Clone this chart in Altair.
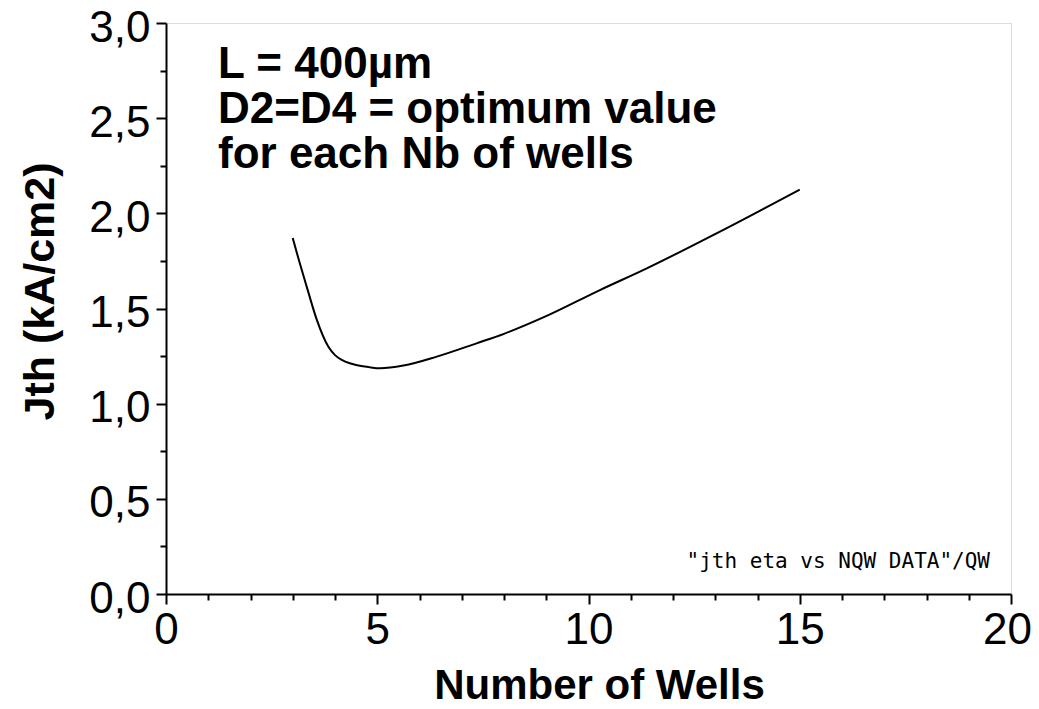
import altair as alt
import pandas as pd

# Data
wells = [3.0, 3.1, 3.33, 3.57, 3.84, 4.0, 4.16, 4.35, 4.5, 4.8, 5.07, 5.62, 6.41, 7.35, 8.0, 8.97, 10.27, 11.38, 13.03, 15.0]
jth = [1.87, 1.79, 1.615, 1.44, 1.30, 1.255, 1.23, 1.212, 1.203, 1.192, 1.186, 1.20, 1.247, 1.317, 1.367, 1.457, 1.597, 1.711, 1.895, 2.125]

x_major = [0, 5, 10, 15, 20]
x_minor = [1, 2, 3, 4, 6, 7, 8, 9, 11, 12, 13, 14, 16, 17, 18, 19]
y_major = [0.0, 0.5, 1.0, 1.5, 2.0, 2.5, 3.0]
y_minor = [0.25, 0.75, 1.25, 1.75, 2.25, 2.75]

note_lines = ["L = 400µm", "D2=D4 = optimum value", "for each Nb of wells"]
source_label = '"jth eta vs NQW DATA"/QW'

df = pd.DataFrame({"wells": wells, "jth": jth})

xs = alt.Scale(domain=[0, 20], nice=False, zero=False)
ys = alt.Scale(domain=[0, 3], nice=False, zero=False)

FONT = "Liberation Sans"

major_x_axis = alt.Axis(
    values=x_major, orient="bottom", grid=False, tickSize=10, tickWidth=2, tickColor="black",
    domainColor="black", domainWidth=2, labelFont=FONT, labelFontSize=44, labelColor="black",
    labelPadding=4, labelFlush=False, labelOverlap=False,
    labelOffset={"condition": {"test": "datum.value == 20", "value": -4}, "value": 0},
    title="Number of Wells", titleFont=FONT, titleFontSize=42, titleFontWeight="bold",
    titleColor="black", titleX=433, titleY=104, titleAlign="center", titleBaseline="alphabetic",
)
major_y_axis = alt.Axis(
    values=y_major, orient="left", grid=False, tickSize=10, tickWidth=2, tickColor="black",
    domainColor="black", domainWidth=2, labelFont=FONT, labelFontSize=44, labelColor="black",
    labelPadding=6, labelOffset=5, labelFlush=False, labelOverlap=False, labelBaseline="middle",
    labelExpr="replace(format(datum.value, '.1f'), '.', ',')",
    title="Jth (kA/cm2)", titleFont=FONT, titleFontSize=43, titleFontWeight="bold",
    titleColor="black", titleX=-113, titleY=268, titleAngle=270, titleAlign="center",
    titleBaseline="alphabetic",
)
minor_x_axis = alt.Axis(
    values=x_minor, orient="bottom", grid=False, tickSize=6, tickWidth=2, tickColor="black",
    domain=False, labels=False, title=None,
)
minor_y_axis = alt.Axis(
    values=y_minor, orient="left", grid=False, tickSize=6, tickWidth=2, tickColor="black",
    domain=False, labels=False, title=None,
)

line = alt.Chart(df).mark_line(color="black", strokeWidth=2, interpolate="monotone").encode(
    x=alt.X("wells:Q", scale=xs, axis=major_x_axis),
    y=alt.Y("jth:Q", scale=ys, axis=major_y_axis),
)

minor = alt.Chart(df).mark_line(opacity=0).encode(
    x=alt.X("wells:Q", scale=xs, axis=minor_x_axis),
    y=alt.Y("jth:Q", scale=ys, axis=minor_y_axis),
)

note = alt.Chart(pd.DataFrame({"t": [note_lines]})).mark_text(
    font=FONT, fontSize=44, fontWeight="bold", color="black", align="left",
    baseline="alphabetic", lineHeight=45,
).encode(text="t", x=alt.value(52), y=alt.value(55))

src = alt.Chart(pd.DataFrame({"t": [source_label]})).mark_text(
    font="DejaVu Sans Mono", fontSize=21, color="black", align="right", baseline="alphabetic",
).encode(text="t", x=alt.value(824), y=alt.value(545))

chart = alt.layer(line, minor, note, src).resolve_axis(
    x="independent", y="independent"
).properties(
    width=845, height=571,
    autosize=alt.AutoSizeParams(type="none"),
    padding={"left": 158, "top": 15, "right": 20, "bottom": 107},
).configure_view(stroke="black", strokeWidth=2).configure(background="white")

chart.save("out.html", embed_options={"renderer": "svg", "actions": False})
